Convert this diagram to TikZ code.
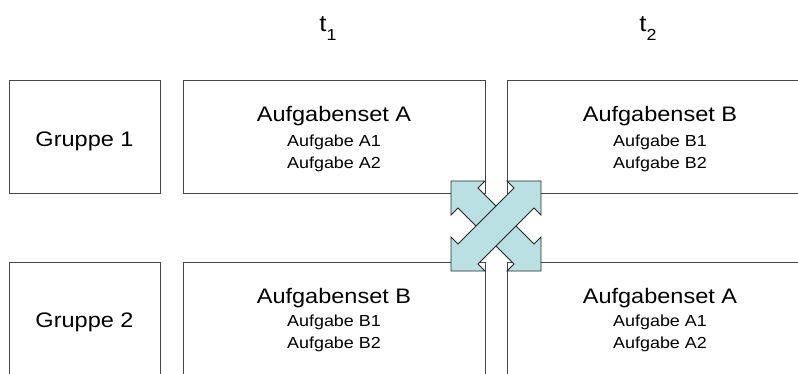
\documentclass[tikz,border=0pt]{standalone}
\usepackage{fontspec}
\usepackage{graphicx}
\setmainfont{Liberation Sans}
\definecolor{arrowblue}{RGB}{186,224,228}
\newcommand{\hstretch}[1]{\scalebox{1.12}[1]{#1}}
\begin{document}
\begin{tikzpicture}[x=1pt,y=-1pt,
  box/.style={draw=black!72, line width=0.8pt, inner sep=0pt, outer sep=0pt, anchor=north west},
  bigtxt/.style={font=\fontsize{21}{25}\selectfont, inner sep=0pt, anchor=base},
  hdtxt/.style={font=\fontsize{23}{27}\selectfont, inner sep=0pt, anchor=base},
  smalltxt/.style={font=\fontsize{16}{19}\selectfont, inner sep=0pt, anchor=base},
  xarrow/.style={fill=arrowblue, draw=black!85, line width=0.8pt, line join=miter}]
\clip (0,0) rectangle (798,374);
\fill[white] (0,0) rectangle (798,374);
% column headers
\node[hdtxt] (t1) at (328,31.7) {\hstretch{t\raisebox{-9pt}{\fontsize{16}{16}\selectfont 1}}};
\node[hdtxt] (t2) at (648,31.7) {\hstretch{t\raisebox{-9pt}{\fontsize{16}{16}\selectfont 2}}};
% boxes
\node[box, minimum width=151pt, minimum height=113pt] (g1) at (9,80) {};
\node[box, minimum width=302pt, minimum height=113pt] (a1) at (183,80) {};
\node[box, minimum width=304pt, minimum height=113pt] (b1) at (507,80) {};
\node[box, minimum width=151pt, minimum height=113pt] (g2) at (9,262) {};
\node[box, minimum width=302pt, minimum height=113pt] (b2) at (183,262) {};
\node[box, minimum width=304pt, minimum height=113pt] (a2) at (507,262) {};
% texts
\node[bigtxt] (g1t) at (84.5,146.5) {\hstretch{Gruppe 1}};
\node[bigtxt] (g2t) at (84.5,327) {\hstretch{Gruppe 2}};
\node[bigtxt] (a1t) at (334,121.5) {\hstretch{Aufgabenset A}};
\node[smalltxt] (a1x) at (334,147) {\hstretch{Aufgabe A1}};
\node[smalltxt] (a1y) at (334,169) {\hstretch{Aufgabe A2}};
\node[bigtxt] (b1t) at (660,121.5) {\hstretch{Aufgabenset B}};
\node[smalltxt] (b1x) at (660,147) {\hstretch{Aufgabe B1}};
\node[smalltxt] (b1y) at (660,169) {\hstretch{Aufgabe B2}};
\node[bigtxt] (b2t) at (334,303) {\hstretch{Aufgabenset B}};
\node[smalltxt] (b2x) at (334,326) {\hstretch{Aufgabe B1}};
\node[smalltxt] (b2y) at (334,348) {\hstretch{Aufgabe B2}};
\node[bigtxt] (a2t) at (660,303) {\hstretch{Aufgabenset A}};
\node[smalltxt] (a2x) at (660,326) {\hstretch{Aufgabe A1}};
\node[smalltxt] (a2y) at (660,348) {\hstretch{Aufgabe A2}};
% crossing double arrows
\coordinate (cx) at (496,226);
\begin{scope}[shift={(cx)}]
\draw[xarrow] (45,45) -- (45,11) -- (38,18) -- (-18,-38) -- (-11,-45) -- (-45,-45)
  -- (-45,-11) -- (-38,-18) -- (18,38) -- (11,45) -- cycle;
\draw[xarrow] (-45,45) -- (-45,11) -- (-38,18) -- (18,-38) -- (11,-45) -- (45,-45)
  -- (45,-11) -- (38,-18) -- (-18,38) -- (-11,45) -- cycle;
\end{scope}
\end{tikzpicture}
\end{document}
